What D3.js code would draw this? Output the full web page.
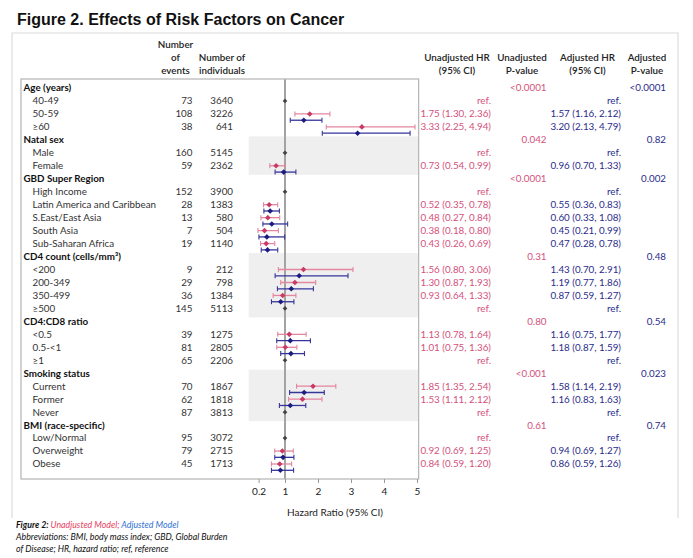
<!DOCTYPE html>
<html lang="en">
<head>
<meta charset="utf-8">
<title>Figure 2. Effects of Risk Factors on Cancer</title>
<script src="https://cdn.jsdelivr.net/npm/d3@7"></script>
<style>
body { margin: 0; background: #fff; }
</style>
</head>
<body>
<script>

// rows of the forest table (headers have no counts, ref rows have counts but no HR)
var rowLabels = ["Age (years)", "40-49", "50-59", "\u226560",
  "Natal sex", "Male", "Female",
  "GBD Super Region", "High Income", "Latin America and Caribbean", "S.East/East Asia", "South Asia", "Sub-Saharan Africa",
  "CD4 count (cells/mm\u00b3)", "<200", "200-349", "350-499", "\u2265500",
  "CD4:CD8 ratio", "<0.5", "0.5-<1", "\u22651",
  "Smoking status", "Current", "Former", "Never",
  "BMI (race-specific)", "Low/Normal", "Overweight", "Obese"];
var events =      [null, 73, 108, 38, null, 160, 59, null, 152, 28, 13, 7, 19, null, 9, 29, 36, 145, null, 39, 81, 65, null, 70, 62, 87, null, 95, 79, 45];
var individuals = [null, 3640, 3226, 641, null, 5145, 2362, null, 3900, 1383, 580, 504, 1140, null, 212, 798, 1384, 5113, null, 1275, 2805, 2206, null, 1867, 1818, 3813, null, 3072, 2715, 1713];

var unadjHR = [null, null, 1.75, 3.33, null, null, 0.73, null, null, 0.52, 0.48, 0.38, 0.43, null, 1.56, 1.30, 0.93, null, null, 1.13, 1.01, null, null, 1.85, 1.53, null, null, null, 0.92, 0.84];
var unadjLo = [null, null, 1.30, 2.25, null, null, 0.54, null, null, 0.35, 0.27, 0.18, 0.26, null, 0.80, 0.87, 0.64, null, null, 0.78, 0.75, null, null, 1.35, 1.11, null, null, null, 0.69, 0.59];
var unadjHi = [null, null, 2.36, 4.94, null, null, 0.99, null, null, 0.78, 0.84, 0.80, 0.69, null, 3.06, 1.93, 1.33, null, null, 1.64, 1.36, null, null, 2.54, 2.12, null, null, null, 1.25, 1.20];
var adjHR =   [null, null, 1.57, 3.20, null, null, 0.96, null, null, 0.55, 0.60, 0.45, 0.47, null, 1.43, 1.19, 0.87, null, null, 1.16, 1.18, null, null, 1.58, 1.16, null, null, null, 0.94, 0.86];
var adjLo =   [null, null, 1.16, 2.13, null, null, 0.70, null, null, 0.36, 0.33, 0.21, 0.28, null, 0.70, 0.77, 0.59, null, null, 0.75, 0.87, null, null, 1.14, 0.83, null, null, null, 0.69, 0.59];
var adjHi =   [null, null, 2.12, 4.79, null, null, 1.33, null, null, 0.83, 1.08, 0.99, 0.78, null, 2.91, 1.86, 1.27, null, null, 1.77, 1.59, null, null, 2.19, 1.63, null, null, null, 1.27, 1.26];

var pUnadj = ["<0.0001", null, null, null, "0.042", null, null, "<0.0001", null, null, null, null, null, "0.31", null, null, null, null, "0.80", null, null, null, "<0.001", null, null, null, "0.61", null, null, null];
var pAdj =   ["<0.0001", null, null, null, "0.82", null, null, "0.002", null, null, null, null, null, "0.48", null, null, null, null, "0.54", null, null, null, "0.023", null, null, null, "0.74", null, null, null];

var xTicks = [0.2, 1, 2, 3, 4, 5];

var w = 693;
var h = 558;
var font = "Lato, 'Open Sans', sans-serif";

var pinkLine = "#e3869f", pinkDot = "#c93a65", pinkText = "#d4517b";
var blueLine = "#35359a", blueDot = "#1b1b82", blueText = "#2b2b8a";

var rows = rowLabels.map(function(l, i) {
  return {
    i: i, label: l, header: events[i] === null,
    ref: events[i] !== null && unadjHR[i] === null,
    ev: events[i], n: individuals[i],
    uHR: unadjHR[i], uLo: unadjLo[i], uHi: unadjHi[i],
    aHR: adjHR[i], aLo: adjLo[i], aHi: adjHi[i],
    pU: pUnadj[i], pA: pAdj[i]
  };
});
// section number for alternating bands
var sec = -1;
rows.forEach(function(r) { if (r.header) sec++; r.sec = sec; });

var svg = d3.select("body").append("svg")
  .attr("width", w).attr("height", h)
  .style("font-family", font);

var x = d3.scaleLinear().domain([0.2, 5]).range([258.6, 417]);
var y = d3.scaleLinear().domain([0, rows.length - 1]).range([88, 464]);

var boxTop = 79, boxBottom = 479, boxLeft = 21;
var plotL = x(-0.1), plotR = x(5.05);

// outer frame
svg.append("path")
  .attr("d", "M12,518V33H678V518")
  .attr("fill", "none").attr("stroke", "#dcdcdc").attr("stroke-width", 1.2);

// title
svg.append("text").text("Figure 2. Effects of Risk Factors on Cancer")
  .attr("x", 17).attr("y", 25)
  .attr("font-family", "'Liberation Sans', Arial, sans-serif")
  .attr("font-weight", "bold").attr("font-size", 16).attr("fill", "#111");

// shaded sections
var shaded = d3.groups(rows.filter(function(r) { return r.sec % 2 === 1; }), function(r) { return r.sec; });
svg.selectAll("rect.band").data(shaded).enter().append("rect")
  .attr("class", "band")
  .attr("x", plotL).attr("width", plotR - plotL)
  .attr("y", function(d) { return y(d[1][0].i) - 3.5; })
  .attr("height", function(d) { return y(d[1][d[1].length - 1].i) + 9 - (y(d[1][0].i) - 3.5); })
  .attr("fill", "#efefef");

// reference line at HR = 1
svg.append("line")
  .attr("x1", x(1)).attr("x2", x(1)).attr("y1", boxTop).attr("y2", boxBottom)
  .attr("stroke", "#a3a3a3").attr("stroke-width", 2);

// inner box
svg.append("rect")
  .attr("x", boxLeft).attr("y", boxTop)
  .attr("width", plotR - boxLeft).attr("height", boxBottom - boxTop)
  .attr("fill", "none").attr("stroke", "#b4b4b4").attr("stroke-width", 1.2);

// column headers
var hdr = [
  {x: 175.5, lines: ["Number", "of", "events"]},
  {x: 222, lines: ["Number of", "individuals"]},
  {x: 457, lines: ["Unadjusted HR", "(95% CI)"]},
  {x: 522, lines: ["Unadjusted", "P-value"]},
  {x: 587.5, lines: ["Adjusted HR", "(95% CI)"]},
  {x: 647, lines: ["Adjusted", "P-value"]}
];
hdr.forEach(function(c) {
  var n = c.lines.length;
  c.lines.forEach(function(t, k) {
    svg.append("text").text(t)
      .attr("x", c.x).attr("y", 71 - (n - 1 - k) * 13.3).attr("dy", "0.35em")
      .attr("text-anchor", "middle").attr("font-size", 9.8)
      .attr("font-weight", 600).attr("fill", "#222");
  });
});

// left table text
var g = svg.append("g");
g.selectAll("text.lab").data(rows).enter().append("text")
  .attr("class", "lab")
  .attr("x", function(d) { return d.header ? 23.5 : 32.5; })
  .attr("y", function(d) { return y(d.i); }).attr("dy", "0.35em")
  .attr("font-size", 9.8)
  .attr("font-weight", function(d) { return d.header ? "bold" : "normal"; })
  .attr("fill", function(d) { return d.header ? "#111" : "#333"; })
  .text(function(d) { return d.label; });

var counts = rows.filter(function(r) { return !r.header; });
g.selectAll("text.ev").data(counts).enter().append("text")
  .attr("x", 192.5).attr("y", function(d) { return y(d.i); }).attr("dy", "0.35em")
  .attr("text-anchor", "end").attr("font-size", 9.8).attr("fill", "#333")
  .text(function(d) { return d.ev; });
g.selectAll("text.n").data(counts).enter().append("text")
  .attr("x", 233).attr("y", function(d) { return y(d.i); }).attr("dy", "0.35em")
  .attr("text-anchor", "end").attr("font-size", 9.8).attr("fill", "#333")
  .text(function(d) { return d.n; });

// right table text
var f = d3.format(".2f");
function ci(hr, lo, hi) { return f(hr) + " (" + f(lo) + ", " + f(hi) + ")"; }

var rt = svg.append("g").attr("font-size", 9.8).attr("text-anchor", "end");
rt.selectAll("text.u").data(counts).enter().append("text")
  .attr("x", 491).attr("y", function(d) { return y(d.i); }).attr("dy", "0.35em")
  .attr("fill", pinkText)
  .text(function(d) { return d.ref ? "ref." : ci(d.uHR, d.uLo, d.uHi); });
rt.selectAll("text.a").data(counts).enter().append("text")
  .attr("x", 621).attr("y", function(d) { return y(d.i); }).attr("dy", "0.35em")
  .attr("fill", blueText)
  .text(function(d) { return d.ref ? "ref." : ci(d.aHR, d.aLo, d.aHi); });
var heads = rows.filter(function(r) { return r.header; });
rt.selectAll("text.pu").data(heads).enter().append("text")
  .attr("x", 546.5).attr("y", function(d) { return y(d.i); }).attr("dy", "0.35em")
  .attr("fill", pinkText).text(function(d) { return d.pU; });
rt.selectAll("text.pa").data(heads).enter().append("text")
  .attr("x", 666).attr("y", function(d) { return y(d.i); }).attr("dy", "0.35em")
  .attr("fill", blueText).text(function(d) { return d.pA; });

// error bars
function bars(data, hr, lo, hi, off, lineCol, dotCol) {
  var gg = svg.append("g");
  var e = gg.selectAll("g").data(data).enter().append("g")
    .attr("transform", function(d) { return "translate(0," + (y(d.i) + off) + ")"; });
  e.append("line")
    .attr("x1", function(d) { return x(d[lo]); }).attr("x2", function(d) { return x(d[hi]); })
    .attr("stroke", lineCol).attr("stroke-width", 1.3);
  [lo, hi].forEach(function(k) {
    e.append("line")
      .attr("x1", function(d) { return x(d[k]); }).attr("x2", function(d) { return x(d[k]); })
      .attr("y1", -2.5).attr("y2", 2.5)
      .attr("stroke", lineCol).attr("stroke-width", 1.1);
  });
  e.append("path")
    .attr("d", d3.symbol(d3.symbolDiamond2, 20))
    .attr("transform", function(d) { return "translate(" + x(d[hr]) + ",0)"; })
    .attr("fill", dotCol);
}
var est = rows.filter(function(r) { return r.uHR !== null; });
bars(est, "uHR", "uLo", "uHi", 0, pinkLine, pinkDot);
bars(est, "aHR", "aLo", "aHi", 6.3, blueLine, blueDot);

// reference points
svg.selectAll("path.ref").data(rows.filter(function(r) { return r.ref; })).enter().append("path")
  .attr("d", d3.symbol(d3.symbolDiamond2, 14))
  .attr("transform", function(d) { return "translate(" + x(1) + "," + y(d.i) + ")"; })
  .attr("fill", "#444");

// x axis
var xAxis = d3.axisBottom(x).tickValues(xTicks).tickSize(4).tickPadding(5)
  .tickFormat(function(d) { return d === 0.2 ? "0.2" : d3.format("d")(d); });
var ax = svg.append("g").attr("transform", "translate(0," + boxBottom + ")").call(xAxis);
ax.select(".domain").remove();
ax.selectAll(".tick line").attr("stroke", "#999");
ax.selectAll(".tick text").attr("font-size", 10).attr("font-family", font).attr("fill", "#222");

svg.append("text").text("Hazard Ratio (95% CI)")
  .attr("x", 335).attr("y", 512).attr("dy", "0.35em")
  .attr("text-anchor", "middle").attr("font-size", 10).attr("fill", "#222");

// footnote
var fn = svg.append("g").attr("font-size", 8.8).attr("font-style", "italic").attr("fill", "#111");
var l1 = fn.append("text").attr("x", 16).attr("y", 528);
l1.append("tspan").attr("font-weight", "bold").text("Figure 2: ");
l1.append("tspan").attr("fill", "#e8435f").text("Unadjusted Model; ");
l1.append("tspan").attr("fill", "#2f72d2").text("Adjusted Model");
fn.append("text").attr("x", 16).attr("y", 540)
  .text("Abbreviations: BMI, body mass index; GBD, Global Burden");
fn.append("text").attr("x", 16).attr("y", 552)
  .text("of Disease; HR, hazard ratio; ref, reference");

</script>
</body>
</html>
